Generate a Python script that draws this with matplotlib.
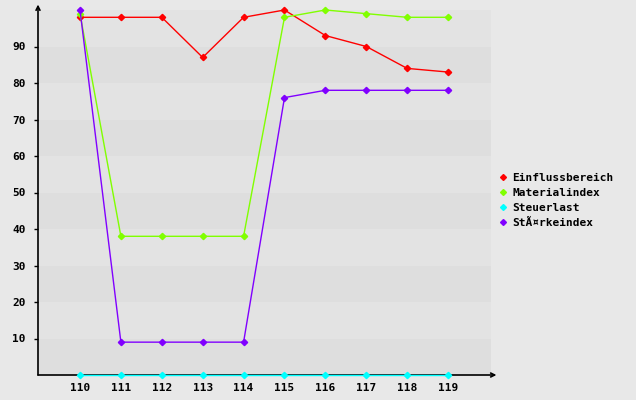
import matplotlib
matplotlib.use('Agg')
from matplotlib import pyplot
from matplotlib.lines import Line2D

years = [110, 111, 112, 113, 114, 115, 116, 117, 118, 119]
einflussbereich = [98, 98, 98, 87, 98, 100, 93, 90, 84, 83]
materialindex = [99, 38, 38, 38, 38, 98, 100, 99, 98, 98]
steuerlast = [0, 0, 0, 0, 0, 0, 0, 0, 0, 0]
staerkeindex = [100, 9, 9, 9, 9, 76, 78, 78, 78, 78]

series_names = ['Einflussbereich', 'Materialindex', 'Steuerlast', 'StÃ¤rkeindex']
series_values = [einflussbereich, materialindex, steuerlast, staerkeindex]
series_colors = ['#ff0000', '#80ff00', '#00ffff', '#8000ff']
y_ticks = [10, 20, 30, 40, 50, 60, 70, 80, 90]

font = {'family': 'DejaVu Sans Mono', 'weight': 'bold', 'size': 8}

figure = pyplot.figure(figsize=(6.36, 4.0), dpi=100, facecolor='#e8e8e8')
W, H = 636, 400
ax = figure.add_axes([38 / W, 25 / H, (491 - 38) / W, (375 - 10) / H])
ax.set_facecolor('#e8e8e8')
ax.set_xlim(108.973, 120.05)
ax.set_ylim(0, 100)

# alternating background bands
for i, low in enumerate(range(0, 100, 10)):
    color = '#dedede' if i % 2 == 0 else '#e3e3e3'
    ax.axhspan(low, low + 10, color=color, lw=0, zorder=0)

for spine in ax.spines.values():
    spine.set_visible(False)

# axes with arrows
ax.annotate('', xy=(0, 1.015), xytext=(0, 0), xycoords='axes fraction',
            arrowprops=dict(arrowstyle='->', color='black', lw=1.2,
                            shrinkA=0, shrinkB=0, mutation_scale=7),
            annotation_clip=False, zorder=2)
ax.annotate('', xy=(1.012, 0), xytext=(0, 0), xycoords='axes fraction',
            arrowprops=dict(arrowstyle='->', color='black', lw=1.2,
                            shrinkA=0, shrinkB=0, mutation_scale=7),
            annotation_clip=False, zorder=2)

for name, values, color in zip(series_names, series_values, series_colors):
    ax.plot(years, values, color=color, lw=1, marker='D', markersize=3.2,
            label=name, clip_on=False, zorder=3)

ax.set_yticks(y_ticks)
ax.set_yticklabels([str(v) for v in y_ticks], fontdict=font)
ax.set_xticks(years)
ax.set_xticklabels([str(v) for v in years], fontdict=font)
ax.tick_params(axis='y', length=3, width=1, color='black', pad=6)
ax.tick_params(axis='x', length=0, pad=6)

handles = [Line2D([], [], color=c, marker='D', markersize=3, lw=0)
           for c in series_colors]
ax.legend(handles, series_names, loc='center left', bbox_to_anchor=(1.01, 0.478),
          frameon=False, prop=font, handlelength=0.6, handletextpad=0.5,
          labelspacing=0.45, borderaxespad=0)

figure.savefig('out.png', dpi=100, facecolor='#e8e8e8')
